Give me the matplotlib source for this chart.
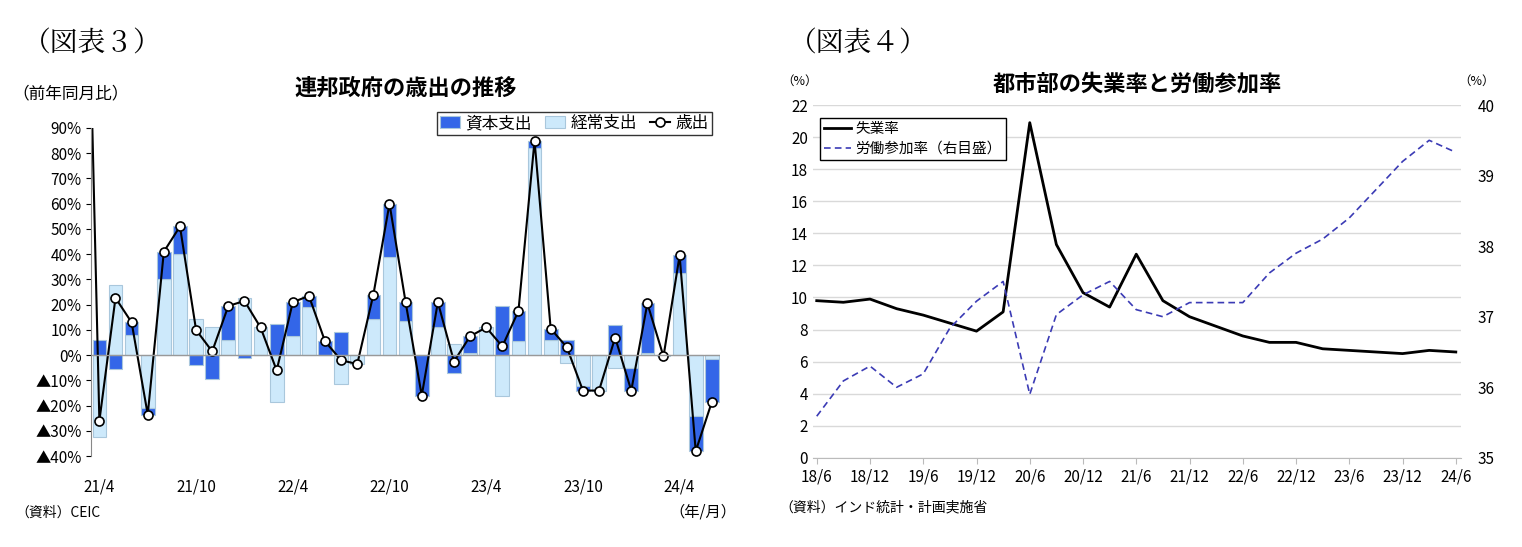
import matplotlib
matplotlib.use("Agg")
import matplotlib.pyplot as plt
import numpy as np

plt.rcParams["font.family"] = ["Noto Sans CJK JP", "DejaVu Sans"]

# 図表3: monthly, 21/3 is only used for the line entering from above
months = ["21/3", "21/4", "21/5", "21/6", "21/7", "21/8", "21/9", "21/10", "21/11", "21/12",
          "22/1", "22/2", "22/3", "22/4", "22/5", "22/6", "22/7", "22/8", "22/9", "22/10",
          "22/11", "22/12", "23/1", "23/2", "23/3", "23/4", "23/5", "23/6", "23/7", "23/8",
          "23/9", "23/10", "23/11", "23/12", "24/1", "24/2", "24/3", "24/4", "24/5", "24/6"]
capital = [np.nan, 6, -5.3, 5, -2.5, 11, 11, -4, -9.5, 13.5,
           -1.3, 0, 12.5, 13.5, 4.5, 5.5, 9, 0, 9.5, 21,
           7.5, -16, 10, -7, 6.5, 0, 19.5, 12, 3, 4.5,
           6, -2, 0, 12, -9, 19.5, 0, 7, -14, -17]
current = [np.nan, -32.5, 28, 8, -21, 30, 40, 14.5, 11, 6,
           22.8, 11, -18.5, 7.5, 19, 0, -11.5, -3.5, 14.5, 39,
           13.5, 0, 11, 4.5, 1, 11, -16, 5.5, 82, 6,
           -3, -12, -14, -5, -5, 1, -0.5, 32.5, -24, -1.5]
total = [240, -26, 22.7, 13, -23.5, 41, 51, 10, 1.5, 19.5,
         21.5, 11, -6, 21, 23.5, 5.5, -2, -3.5, 24, 60,
         21, -16, 21, -2.5, 7.5, 11, 3.5, 17.5, 85, 10.5,
         3.2, -14, -14, 7, -14, 20.5, -0.5, 39.5, -38, -18.5]
left_ticks = ["21/4", "21/10", "22/4", "22/10", "23/4", "23/10", "24/4"]

# 図表4: quarterly
quarters = ["18/6", "18/9", "18/12", "19/3", "19/6", "19/9", "19/12", "20/3", "20/6", "20/9",
            "20/12", "21/3", "21/6", "21/9", "21/12", "22/3", "22/6", "22/9", "22/12", "23/3",
            "23/6", "23/9", "23/12", "24/3", "24/6"]
unemp = [9.8, 9.7, 9.9, 9.3, 8.9, 8.4, 7.9, 9.1, 20.9, 13.3,
         10.3, 9.4, 12.7, 9.8, 8.8, 8.2, 7.6, 7.2, 7.2, 6.8,
         6.7, 6.6, 6.5, 6.7, 6.6]
lfpr = [35.59, 36.09, 36.3, 36.0, 36.19, 36.84, 37.22, 37.5, 35.9, 37.03,
        37.31, 37.5, 37.1, 37.0, 37.2, 37.2, 37.2, 37.62, 37.9, 38.1,
        38.4, 38.8, 39.2, 39.5, 39.33]

fig = plt.figure(figsize=(15.22, 5.47), dpi=100)

# ---- left chart
ax = fig.add_axes([0.060, 0.166, 0.413, 0.600])
x = np.arange(len(months))
cur = np.array(current, dtype=float)
cap = np.array(capital, dtype=float)
cap_bottom = np.where(np.sign(cap) == np.sign(cur), cur, 0)
ax.bar(x, cur, width=0.85, color="#cde9fb", edgecolor="#a9c7dc", linewidth=0.8, label="経常支出")
ax.bar(x, cap, width=0.85, bottom=cap_bottom, color="#3366e8", edgecolor="#a9c7dc", linewidth=0.8, label="資本支出")
ax.plot(x, total, color="black", lw=1.5, marker="o", ms=6.5, mfc="white", mec="black", mew=1.2, label="歳出")
ax.axhline(0, color="#999999", lw=1)
ax.set_xlim(0.5, len(months) - 0.5)
ax.set_ylim(-40, 90)
yt = np.arange(-40, 91, 10)
ax.set_yticks(yt)
ax.set_yticklabels([f"▲{-v}%" if v < 0 else f"{v}%" for v in yt], fontsize=11)
ax.set_xticks([months.index(m) for m in left_ticks])
ax.set_xticklabels(left_ticks, fontsize=11)
ax.tick_params(axis="x", length=0, pad=16)
for s in ["top", "right", "bottom"]:
    ax.spines[s].set_visible(False)
ax.spines["left"].set_color("#888888")
h, l = ax.get_legend_handles_labels()
order = [l.index("資本支出"), l.index("経常支出"), l.index("歳出")]
ax.legend([h[i] for i in order], [l[i] for i in order], loc="upper right", ncol=3, fontsize=12,
          bbox_to_anchor=(1.0, 1.075), frameon=True, fancybox=False, edgecolor="black",
          handlelength=1.2, handletextpad=0.3, columnspacing=0.8, borderpad=0.2)
ax.text(0.5, 1.1, "連邦政府の歳出の推移", transform=ax.transAxes, ha="center", fontsize=16, fontweight="bold")
fig.text(0.008, 0.82, "（前年同月比）", fontsize=12)
fig.text(0.010, 0.055, "（資料）CEIC", fontsize=10)
fig.text(0.440, 0.055, "（年/月）", fontsize=11)
fig.text(0.015, 0.905, "（図表３）", fontsize=20, family="Noto Serif CJK JP")

# ---- right chart
ax2 = fig.add_axes([0.534, 0.163, 0.426, 0.645])
xq = np.arange(len(quarters))
ax2.plot(xq, unemp, color="black", lw=2, label="失業率")
ax2.set_ylim(0, 22)
ax2.set_yticks(np.arange(0, 23, 2))
ax2.set_xlim(-0.15, len(quarters) - 0.8)
ax2.set_xticks(xq[::2])
ax2.set_xticklabels(quarters[::2], fontsize=11)
ax2.tick_params(axis="y", length=0, labelsize=11)
ax2.tick_params(axis="x", length=4, color="#bbbbbb")
ax2.grid(axis="y", color="#d9d9d9", lw=1)
ax2.set_axisbelow(True)
for s in ["top", "right", "left"]:
    ax2.spines[s].set_visible(False)
ax2.spines["bottom"].set_color("#bbbbbb")
ax3 = ax2.twinx()
ax3.plot(xq, lfpr, color="#3b3bb5", lw=1.2, ls=(0, (4, 2.5)), label="労働参加率（右目盛）")
ax3.set_ylim(35, 40)
ax3.set_yticks(np.arange(35, 41, 1))
ax3.tick_params(axis="y", length=0, labelsize=11, pad=12)
for s in ["top", "right", "left", "bottom"]:
    ax3.spines[s].set_visible(False)
h1, l1 = ax2.get_legend_handles_labels()
h2, l2 = ax3.get_legend_handles_labels()
ax3.legend(h1 + h2, l1 + l2, loc="upper left", bbox_to_anchor=(0.0, 0.985), fontsize=10.5,
           frameon=True, fancybox=False, edgecolor="black", framealpha=1, handlelength=1.8,
           handletextpad=0.3, borderpad=0.3, labelspacing=0.4)
ax2.text(0.5, 1.04, "都市部の失業率と労働参加率", transform=ax2.transAxes, ha="center", fontsize=16, fontweight="bold")
fig.text(0.513, 0.845, "（%）", fontsize=9)
fig.text(0.958, 0.845, "（%）", fontsize=9)
fig.text(0.512, 0.065, "（資料）インド統計・計画実施省", fontsize=10)
fig.text(0.518, 0.905, "（図表４）", fontsize=20, family="Noto Serif CJK JP")

fig.savefig("out.png", dpi=100)
